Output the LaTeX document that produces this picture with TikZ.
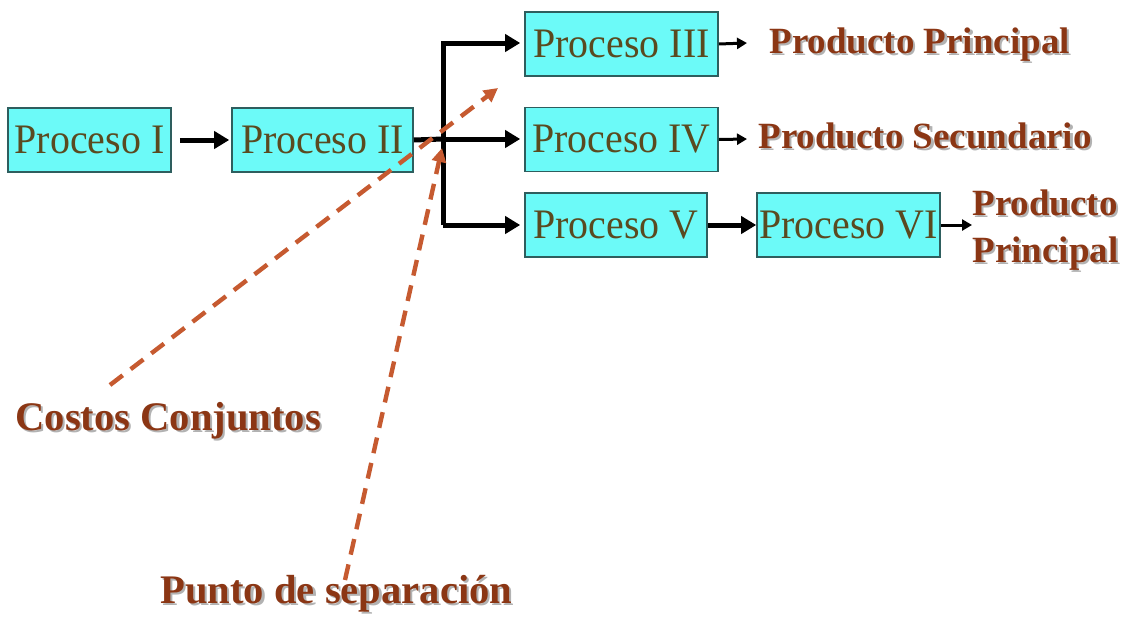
\documentclass[tikz,border=0pt]{standalone}
\usepackage{fontspec}
\setmainfont{Liberation Serif}
\newfontfamily\boxfont[FakeStretch=0.95]{Liberation Serif}
\usetikzlibrary{arrows.meta}
\definecolor{boxfill}{HTML}{6CFAF8}
\definecolor{boxline}{HTML}{2E5E5E}
\definecolor{boxtext}{HTML}{5A4A20}
\definecolor{prodbrown}{HTML}{8B3614}
\definecolor{dashcol}{HTML}{C65A30}
\newcommand\shtxt[1]{\rlap{\hspace{1.1pt}\raisebox{-1.1pt}{\color{black!30}#1}}#1}
\tikzset{
  procbox/.style={draw=boxline, line width=0.8pt, fill=boxfill, inner sep=0pt,
    minimum height=32pt, text=boxtext, font=\boxfont\fontsize{21}{24}\selectfont},
  flowarrow/.style={line width=2.5pt, -{Triangle[length=7.5pt,width=8.5pt]}},
  smallarrow/.style={line width=1.5pt, -{Triangle[length=5pt,width=5.5pt]}},
  prodtext/.style={text=prodbrown, inner sep=0pt, font=\bfseries\fontsize{18.5}{23.5}\selectfont},
  bigtext/.style={text=prodbrown, inner sep=0pt, font=\bfseries\fontsize{20.3}{24}\selectfont},
  dashline/.style={draw=dashcol, line width=2.2pt, dash pattern=on 8pt off 5pt,
    -{Triangle[length=7pt,width=7pt]}}
}
\begin{document}
\begin{tikzpicture}[x=0.5pt,y=-0.5pt]
\useasboundingbox (0,0) rectangle (1128,616);
% boxes
\node[procbox, minimum width=81.5pt] (p1) at (89.5,140) {Proceso I};
\node[procbox, minimum width=90.5pt] (p2) at (322.5,140) {Proceso II};
\node[procbox, minimum width=96.5pt] (p3) at (621.5,44) {Proceso III};
\node[procbox, minimum width=96.5pt] (p4) at (621.5,139.5) {Proceso IV};
\node[procbox, minimum width=91pt] (p5) at (616,225) {Proceso V};
\node[procbox, minimum width=91.5pt] (p6) at (848.5,225) {Proceso VI};
% junction
\coordinate (j) at (443,139);
\coordinate (jt) at (443,43);
\coordinate (jb) at (443,225);
\draw[flowarrow] (p1.east) ++(8,0) -- ([xshift=-1pt]p2.west);
\draw[line width=2.5pt] (p2.east) -- (j);
\draw[flowarrow] (jb) -- (jt) -- ([xshift=-2pt]p3.west |- jt);
\draw[flowarrow] (j) -- ([xshift=-2pt]p4.west |- j);
\draw[flowarrow] (jb) -- ([xshift=-2pt]p5.west);
\draw[line width=2.5pt] (jt) -- (jb);
\draw[flowarrow] (p5.east) -- (p6.west);
% products
\node[prodtext, anchor=base west] (pp1) at (769,53) {\shtxt{Producto Principal}};
\node[prodtext, anchor=base west] (ps) at (758,148) {\shtxt{Producto Secundario}};
\node[prodtext, anchor=west, align=left] (pp2) at (972,231) {\shtxt{Producto}\\\shtxt{Principal}};
\draw[smallarrow] (p3.east) -- (747,43);
\draw[smallarrow] (p4.east) -- (747,139);
\draw[smallarrow] (p6.east) -- (pp2.west |- p6.east);
% labels and dashed pointers
\node[bigtext, anchor=base west] (cc) at (15,430) {\shtxt{Costos Conjuntos}};
\node[bigtext, anchor=base west] (ps2) at (160,603) {\shtxt{Punto de separación}};
\coordinate (ccs) at (110,385);
\coordinate (cct) at (498,88);
\coordinate (pss) at (345,580);
\coordinate (pst) at (442,148);
\draw[dashline] (ccs) -- (cct);
\draw[dashline] (pss) -- (pst);
\end{tikzpicture}
\end{document}
